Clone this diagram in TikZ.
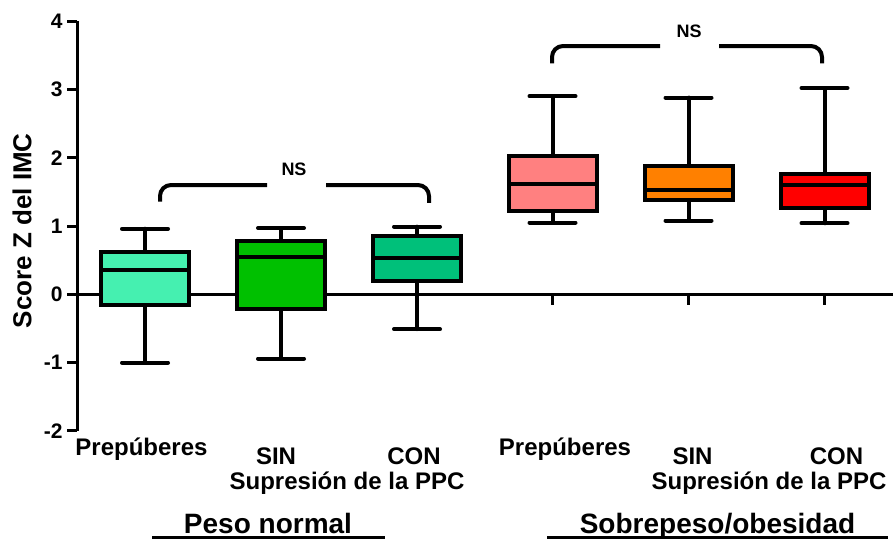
\documentclass[tikz,border=0pt]{standalone}
\usepackage{fontspec}
\setmainfont{Liberation Sans}
\usetikzlibrary{positioning}

\definecolor{aquabox}{RGB}{69,240,176}
\definecolor{greenbox}{RGB}{0,192,0}
\definecolor{tealbox}{RGB}{0,192,122}
\definecolor{pinkbox}{RGB}{255,128,128}
\definecolor{orangebox}{RGB}{255,128,0}
\definecolor{redbox}{RGB}{255,0,0}

\tikzset{
  axis/.style={line width=3pt},
  whisk/.style={line width=4pt, line cap=round},
  boxq/.style={draw, line width=4pt},
  brace/.style={line width=4pt, rounded corners=11pt},
  ticklab/.style={anchor=east, font=\bfseries\fontsize{21}{24}\selectfont},
  catlab/.style={anchor=base, font=\bfseries\fontsize{24}{28}\selectfont},
  grplab/.style={anchor=base, font=\bfseries\fontsize{28}{32}\selectfont},
}

\begin{document}
\begin{tikzpicture}[x=1pt, y=68.3pt]
    \useasboundingbox (0,-3.597) rectangle (896,4.309);
    \draw[axis] (77,4) -- (77,-2);
    \foreach \v [count=\i] in {-2,...,4} {
        \draw[axis] (67,\v) -- (77,\v);
        \node[ticklab] (tick\i) at (66,\v) {\v};
    }
    \draw[axis] (77,0) -- (893,0);
    \foreach \x in {145,281,417,552.5,688.5,824.5}
        \draw[axis] (\x,0) -- (\x,-0.15);
    \node[rotate=90, font=\bfseries\fontsize{26}{30}\selectfont] (ylab) at (22,0.93) {Score Z del IMC};

    \draw[whisk] (145,0.62) -- (145,0.96) (122,0.96) -- (168,0.96);
    \draw[whisk] (145,-0.16) -- (145,-1.0) (122,-1.0) -- (168,-1.0);
    \filldraw[boxq, fill=aquabox] (101,-0.16) rectangle (189,0.62);
    \draw[boxq] (101,0.35) -- (189,0.35);

    \draw[whisk] (281,0.78) -- (281,0.97) (258,0.97) -- (304,0.97);
    \draw[whisk] (281,-0.22) -- (281,-0.94) (258,-0.94) -- (304,-0.94);
    \filldraw[boxq, fill=greenbox] (237,-0.22) rectangle (325,0.78);
    \draw[boxq] (237,0.55) -- (325,0.55);

    \draw[whisk] (417,0.85) -- (417,0.99) (394,0.99) -- (440,0.99);
    \draw[whisk] (417,0.20) -- (417,-0.51) (394,-0.51) -- (440,-0.51);
    \filldraw[boxq, fill=tealbox] (373,0.20) rectangle (461,0.85);
    \draw[boxq] (373,0.53) -- (461,0.53);

    \draw[whisk] (552.5,2.02) -- (552.5,2.90) (529.5,2.90) -- (575.5,2.90);
    \draw[whisk] (552.5,1.22) -- (552.5,1.05) (529.5,1.05) -- (575.5,1.05);
    \filldraw[boxq, fill=pinkbox] (508.5,1.22) rectangle (596.5,2.02);
    \draw[boxq] (508.5,1.62) -- (596.5,1.62);

    \draw[whisk] (688.5,1.88) -- (688.5,2.88) (665.5,2.88) -- (711.5,2.88);
    \draw[whisk] (688.5,1.38) -- (688.5,1.08) (665.5,1.08) -- (711.5,1.08);
    \filldraw[boxq, fill=orangebox] (644.5,1.38) rectangle (732.5,1.88);
    \draw[boxq] (644.5,1.53) -- (732.5,1.53);

    \draw[whisk] (824.5,1.76) -- (824.5,3.02) (801.5,3.02) -- (847.5,3.02);
    \draw[whisk] (824.5,1.27) -- (824.5,1.04) (801.5,1.04) -- (847.5,1.04);
    \filldraw[boxq, fill=redbox] (780.5,1.27) rectangle (868.5,1.76);
    \draw[boxq] (780.5,1.60) -- (868.5,1.60);

    \draw[brace] (160,1.356) |- (267,1.60);
    \draw[brace] (326,1.60) -| (429,1.337);
    \node[font=\bfseries\fontsize{18}{21}\selectfont] (nslow) at (294,1.835) {NS};
    \draw[brace] (552,3.382) |- (660,3.635);
    \draw[brace] (719,3.635) -| (822,3.382);
    \node[font=\bfseries\fontsize{18}{21}\selectfont] (nshigh) at (689,3.848) {NS};

    \node[catlab] (pre1) at (141.5,-2.367) {Prepúberes};
    \node[catlab] (sin1) at (276,-2.492) {SIN};
    \node[catlab] (con1) at (414,-2.492) {CON};
    \node[catlab] (sup1) at (347,-2.851) {Supresión de la PPC};
    \node[catlab] (pre2) at (565,-2.367) {Prepúberes};
    \node[catlab] (sin2) at (692.5,-2.492) {SIN};
    \node[catlab] (con2) at (836.5,-2.492) {CON};
    \node[catlab] (sup2) at (769,-2.851) {Supresión de la PPC};

    \node[grplab] (peso) at (268,-3.495) {Peso normal};
    \draw[line width=2.5pt] (152,-3.561) -- (385,-3.561);
    \node[grplab] (sobre) at (717.5,-3.495) {Sobrepeso/obesidad};
    \draw[line width=2.5pt] (547,-3.561) -- (888,-3.561);
\end{tikzpicture}
\end{document}
